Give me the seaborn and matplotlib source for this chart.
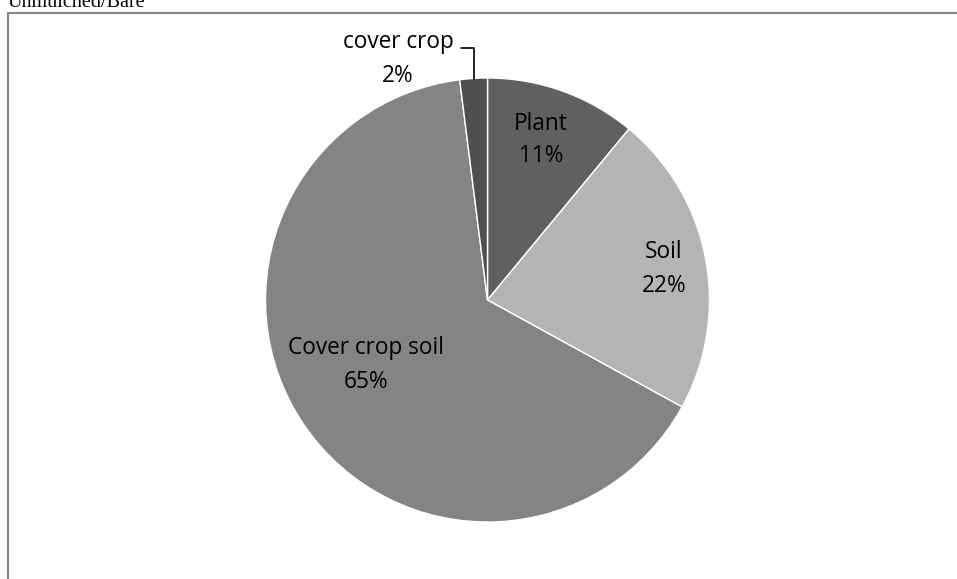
import matplotlib
matplotlib.use("Agg")
import matplotlib.pyplot as plt
import seaborn as sns

# Share of each component (percent), clockwise from the top
categories = ["Plant", "Soil", "Cover crop soil", "cover crop"]
shares = [11, 22, 65, 2]
title = "Unmulched/Bare"

sns.set_theme(style="white")
plt.rcParams["font.family"] = ["Open Sans", "DejaVu Sans"]

colors = sns.color_palette(["#606060", "#b4b4b4", "#848484", "#4f4f4f"])

W, H = 957, 579
fig = plt.figure(figsize=(W / 100, H / 100), dpi=100)
ax = fig.add_axes([0, 0, 1, 1])

cx, cy, r = 487.5, H - 300, 222
wedges, _ = ax.pie(
    shares, colors=colors, startangle=90, counterclock=False,
    center=(cx, cy), radius=r, frame=True,
    wedgeprops=dict(edgecolor="white", linewidth=1.0),
)
ax.set_xlim(0, W)
ax.set_ylim(0, H)
ax.set_aspect("equal")
ax.axis("off")

fs = 16.3
ls = 1.5
label_pos = {
    "Plant": (541, H - 140),
    "Soil": (664, H - 269),
    "Cover crop soil": (366, H - 365),
}
for name, val in zip(categories, shares):
    if name in label_pos:
        x, y = label_pos[name]
        ax.text(x, y, f"{name}\n{val}%", ha="center", va="center",
                fontsize=fs, color="black", linespacing=ls)

# small slice labelled outside with a leader line
ax.text(398, H - 59, f"{categories[3]}\n{shares[3]}%", ha="center", va="center",
        fontsize=fs, color="black", linespacing=ls)
ax.plot([460.5, 474, 474], [H - 47.5, H - 47.5, H - 79], color="black", lw=1.2)

# chart frame (cropped on the right and bottom)
ax.plot([8, 8, W + 5], [-5, H - 12.5, H - 12.5], color="#868686", lw=1.5,
        solid_capstyle="butt")

ax.text(8, H - 7, title, ha="left", va="baseline", fontsize=14.5,
        family="Liberation Serif", color="black")

fig.savefig("out.png", dpi=100)
